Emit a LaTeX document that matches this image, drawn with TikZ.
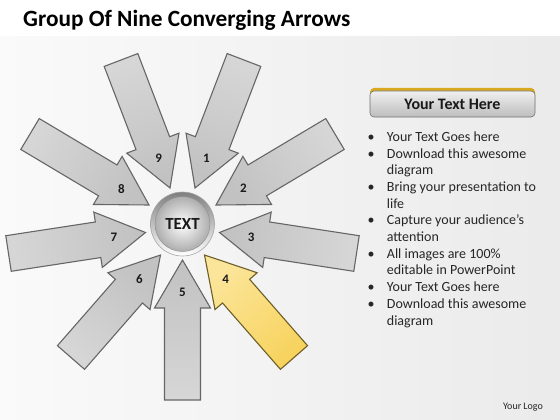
\documentclass[tikz,border=0pt]{standalone}
\usepackage{fontspec}
\setmainfont{Carlito}
\usetikzlibrary{calc}
\definecolor{gold}{HTML}{D9A81E}
\definecolor{yline}{HTML}{6E5F28}
\definecolor{ylight}{HTML}{FBE59A}
\definecolor{ymid}{HTML}{F3BF2E}
\definecolor{ytail}{HTML}{F7D35E}
\newcommand{\cvarrow}[4]{%
  \coordinate (#1b) at ($(#1)!48pt!(#2)$);
  \shadedraw[#4, shading angle=#3]
    (#1) -- ($(#1b)!28pt!90:(#2)$) -- ($(#1b)!18pt!90:(#2)$)
    -- ($(#2)!18pt!-90:(#1)$) -- ($(#2)!18pt!90:(#1)$)
    -- ($(#1b)!18pt!-90:(#2)$) -- ($(#1b)!28pt!-90:(#2)$) -- cycle;
}
\begin{document}
\begin{tikzpicture}[x=1pt,y=-1pt,
  garrow/.style={draw=black!60, line width=1.1pt, line join=miter,
    top color=black!16, middle color=black!36, bottom color=black!24},
  yarrow/.style={draw=yline, line width=1.1pt, line join=miter,
    top color=ytail, middle color=ymid, bottom color=ylight},
  numlbl/.style={font=\bfseries\fontsize{13}{15}\selectfont, text=black!90},
  bultxt/.style={font=\fontsize{14}{16}\selectfont, text=black!85, inner sep=0pt}]
\useasboundingbox (0,0) rectangle (560,420);
\fill[white] (0,0) rectangle (560,420);
\shade[left color=black!2, right color=black!8] (0,37) rectangle (560,420);
\node[anchor=base west, inner sep=0pt, font=\bfseries\fontsize{23.3}{27}\selectfont] (title) at (23,27) {Group Of Nine Converging Arrows};
% arrow tips and tail ends
\coordinate (t1) at (195,188);   \coordinate (e1) at (244,60);
\coordinate (t2) at (216,205);   \coordinate (e2) at (335,134);
\coordinate (t3) at (219.5,232.5); \coordinate (e3) at (356.5,253.5);
\coordinate (t4) at (204.5,255); \coordinate (e4) at (294,357.5);
\coordinate (t5) at (182.5,260); \coordinate (e5) at (182.5,400);
\coordinate (t6) at (160.5,255); \coordinate (e6) at (71,357.5);
\coordinate (t7) at (145.5,232.5); \coordinate (e7) at (8.5,253.5);
\coordinate (t8) at (149,205);   \coordinate (e8) at (30,134);
\coordinate (t9) at (170,188);   \coordinate (e9) at (121,60);
\cvarrow{t1}{e1}{-21}{garrow}
\cvarrow{t2}{e2}{-59}{garrow}
\cvarrow{t3}{e3}{-99}{garrow}
\cvarrow{t4}{e4}{-139}{yarrow}
\cvarrow{t5}{e5}{180}{garrow}
\cvarrow{t6}{e6}{139}{garrow}
\cvarrow{t7}{e7}{99}{garrow}
\cvarrow{t8}{e8}{59}{garrow}
\cvarrow{t9}{e9}{21}{garrow}
\foreach \k in {1,...,9}
  \node[numlbl] (n\k) at ($(t\k)!32pt!(e\k)$) {\k};
% centre sphere
\node[circle, minimum size=64pt, inner sep=0pt, top color=black!50, bottom color=white, draw=black!35, line width=0.6pt] (rim) at (182.5,224) {};
\node[circle, minimum size=55pt, inner sep=0pt, inner color=white, outer color=black!32, draw=black!45, line width=0.4pt,
  font=\bfseries\fontsize{17}{19}\selectfont, text=black!90] (hub) at (182.5,224) {TEXT};
% header box
\fill[gold, rounded corners=4pt] (370,88) rectangle (535,110);
\node[rectangle, rounded corners=4pt, minimum width=165pt, minimum height=26pt, inner sep=0pt,
  top color=black!6, bottom color=black!26, draw=black!55, line width=0.6pt,
  font=\bfseries\fontsize{16}{18}\selectfont, text=black!90] (hdr) at (452.5,104) {Your Text Here};
% bullet list
\foreach \txt [count=\i from 0] in {Your Text Goes here, Download this awesome, diagram,
  Bring your presentation to, life, Capture your audience’s, attention,
  All images are 100\%, editable in PowerPoint, Your Text Goes here,
  Download this awesome, diagram}
  \node[bultxt, anchor=base west] (l\i) at (386.7, {141.3+16.7*\i}) {\txt};
\foreach \i in {0,1,3,5,7,9,10}
  \node[bultxt, anchor=base] (b\i) at (371, {141.3+16.7*\i}) {•};
\node[font=\fontsize{10}{12}\selectfont, text=black!85] (logo) at (523,407) {Your Logo};
\end{tikzpicture}
\end{document}
